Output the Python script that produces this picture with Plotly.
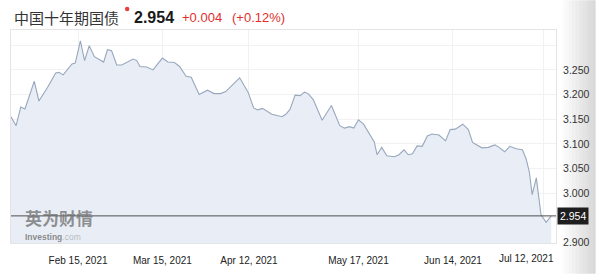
import plotly.graph_objects as go

# ---- data (x = trading-session position) ----
sessions = [0, 1.1, 2.1, 3.0, 5.0, 6.0, 7.8, 9.6, 10.3, 11.2, 13.1, 13.8, 14.9, 15.8, 16.8,
            17.9, 19.9, 20.7, 21.6, 22.7, 23.8, 25.2, 26.2, 27.0, 27.7, 29.1, 30.5, 32.5,
            33.7, 35.1, 36.2, 37.6, 38.7, 40.4, 42.2, 43.6, 45.0, 46.1, 49.1, 50.9, 52.1,
            53.0, 54.0, 56.0, 58.2, 59.0, 59.9, 61.0, 62.1, 63.0, 63.8, 64.9, 66.8, 68.8,
            70.6, 71.6, 72.7, 73.6, 74.6, 75.7, 77.0, 78.0, 78.6, 79.6, 80.7, 82.3, 83.3,
            84.4, 85.3, 86.2, 87.2, 88.3, 89.4, 90.4, 91.9, 93.3, 94.3, 95.4, 97.0, 98.2,
            99.1, 101.1, 102.5, 103.9, 104.8, 106.0, 107.1, 108.5, 109.8, 110.6, 111.3,
            111.9, 112.8, 113.8, 114.9, 116.0]
yields = [3.155, 3.137, 3.175, 3.171, 3.227, 3.187, 3.214, 3.244, 3.245, 3.240, 3.262, 3.264,
          3.309, 3.269, 3.299, 3.277, 3.266, 3.291, 3.289, 3.260, 3.260, 3.268, 3.272, 3.269,
          3.257, 3.256, 3.250, 3.274, 3.266, 3.265, 3.257, 3.237, 3.235, 3.200, 3.209, 3.202,
          3.202, 3.206, 3.234, 3.205, 3.173, 3.169, 3.172, 3.160, 3.155, 3.160, 3.170, 3.199,
          3.198, 3.205, 3.202, 3.190, 3.148, 3.178, 3.137, 3.132, 3.135, 3.132, 3.149, 3.140,
          3.120, 3.104, 3.078, 3.093, 3.076, 3.074, 3.078, 3.088, 3.078, 3.080, 3.096, 3.095,
          3.116, 3.120, 3.118, 3.106, 3.129, 3.130, 3.140, 3.129, 3.103, 3.092, 3.093, 3.098,
          3.093, 3.084, 3.095, 3.090, 3.088, 3.070, 3.043, 2.997, 3.031, 2.956, 2.941, 2.954]

x_tick_pos = [14.4, 32.5, 51.1, 74.6, 94.9, 114.3]
x_tick_labels = ["Feb 15, 2021", "Mar 15, 2021", "Apr 12, 2021", "May 17, 2021", "Jun 14, 2021", "Jul 12, 2021"]
y_tick_vals = [2.90, 2.95, 3.00, 3.05, 3.10, 3.15, 3.20, 3.25, 3.30]
y_tick_labels = ["2.900", "", "3.000", "3.050", "3.100", "3.150", "3.200", "3.250", ""]

title_name = "中国十年期国债"
last_value = "2.954"
change_abs = "+0.004"
change_pct = "(+0.12%)"
last_level = 2.954

LAT = "Liberation Sans, Arial, sans-serif"
CJK = "Noto Sans CJK SC, sans-serif"

W, H = 600, 276
ML, MR, MT, MB = 10, 40, 30, 31
PW = W - ML - MR
PH = H - MT - MB


def px(x):
    return (x - ML) / PW


def py(y):
    return (H - MB - y) / PH


fig = go.Figure()
fig.add_trace(go.Scatter(
    x=sessions, y=yields, mode="lines",
    line=dict(color="#98a7bd", width=1.1),
    fill="tozeroy", fillcolor="#e9eef6",
    hoverinfo="skip", showlegend=False,
))

# x tick labels: last one right-aligned to stay inside the frame
shown_x_labels = x_tick_labels[:-1] + [""]

fig.update_xaxes(
    range=[0, PW / 4.7], tickvals=x_tick_pos, ticktext=shown_x_labels,
    showgrid=True, gridcolor="#f1f1f1", gridwidth=1, zeroline=False,
    showline=True, linecolor="#e4e4e4", mirror=True,
    ticks="", ticklabelstandoff=8,
    tickfont=dict(family=LAT, size=10, color="#222"),
)
fig.update_yaxes(
    range=[2.899, 3.331], side="right", tickvals=y_tick_vals, ticktext=y_tick_labels,
    showgrid=True, gridcolor="#f1f1f1", gridwidth=1, zeroline=False,
    showline=True, linecolor="#e4e4e4", mirror=True,
    ticks="", ticklabelstandoff=4,
    tickfont=dict(family=LAT, size=10.5, color="#333"),
)

shapes = []
# right side scroll shadow
n = 10
for i in range(n):
    x0 = 566 + i * 3.4
    shapes.append(dict(type="rect", xref="paper", yref="paper",
                       x0=px(x0), x1=px(x0 + 3.4), y0=py(H), y1=py(0),
                       fillcolor="#bdbdbd", opacity=0.05 + 0.06 * i,
                       line=dict(width=0), layer="below"))
# last-value line
shapes.append(dict(type="line", xref="paper", yref="y", x0=0, x1=1,
                   y0=last_level, y1=last_level, line=dict(color="#4d4d4d", width=1)))
# red marker dot in title
shapes.append(dict(type="circle", xref="paper", yref="paper",
                   x0=px(125), x1=px(129.5), y0=py(11), y1=py(6.5),
                   fillcolor="#e8413b", line=dict(width=0)))

annotations = [
    dict(text=title_name, x=px(11), y=py(17), xref="paper", yref="paper",
         xanchor="left", yanchor="middle", showarrow=False,
         font=dict(family=CJK, size=15, color="#333")),
    dict(text="<b>" + last_value + "</b>", x=px(132), y=py(17), xref="paper", yref="paper",
         xanchor="left", yanchor="middle", showarrow=False,
         font=dict(family=LAT, size=16, color="#1a1a1a")),
    dict(text=change_abs, x=px(181), y=py(17), xref="paper", yref="paper",
         xanchor="left", yanchor="middle", showarrow=False,
         font=dict(family=LAT, size=13, color="#e0302c")),
    dict(text=change_pct, x=px(231), y=py(17), xref="paper", yref="paper",
         xanchor="left", yanchor="middle", showarrow=False,
         font=dict(family=LAT, size=13, color="#e0302c")),
    # last value badge
    dict(text=last_value, x=1, y=last_level, xref="paper", yref="y",
         xanchor="left", yanchor="middle", xshift=1, showarrow=False,
         bgcolor="#1e1e1e", borderpad=2,
         font=dict(family=LAT, size=10.5, color="#ffffff")),
    # Jul 12 label (clamped to frame)
    dict(text=x_tick_labels[-1], x=px(560), y=py(261), xref="paper", yref="paper",
         xanchor="right", yanchor="middle", showarrow=False,
         font=dict(family=LAT, size=10, color="#222")),
    # watermark
    dict(text="<b>英为财情</b>", x=px(22), y=py(219), xref="paper", yref="paper",
         xanchor="left", yanchor="middle", showarrow=False,
         font=dict(family=CJK, size=17, color="rgba(110,110,110,0.75)")),
    dict(text="<b>Investing</b><span style='color:rgba(150,150,150,0.8)'>.com</span>",
         x=px(22), y=py(238.5), xref="paper", yref="paper",
         xanchor="left", yanchor="middle", showarrow=False,
         font=dict(family=LAT, size=8.5, color="rgba(110,110,110,0.8)")),
]

fig.update_layout(
    width=W, height=H,
    margin=dict(l=ML, r=MR, t=MT, b=MB),
    paper_bgcolor="#ffffff", plot_bgcolor="#ffffff",
    shapes=shapes, annotations=annotations,
    showlegend=False,
)

fig.write_html("out.html", config={"displayModeBar": False})
